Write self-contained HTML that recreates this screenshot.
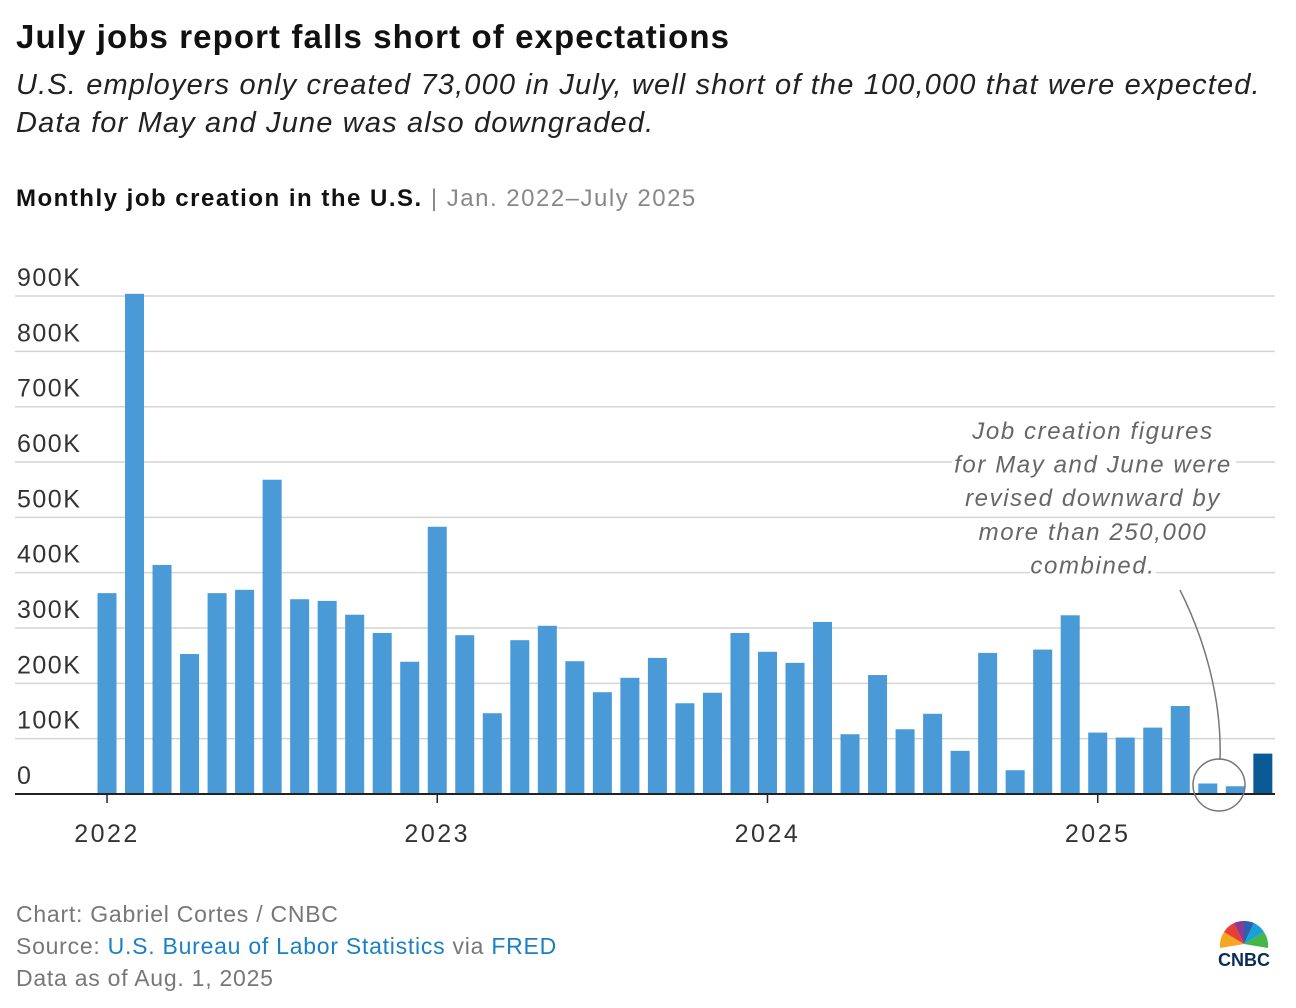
<!DOCTYPE html>
<html><head><meta charset="utf-8">
<style>
body{margin:0;width:1296px;height:1008px;background:#fff;font-family:"Liberation Sans",sans-serif;overflow:hidden;position:relative}
.t{position:absolute;left:16px;top:18px;font-size:33px;font-weight:bold;color:#111;letter-spacing:1.1px}
.s{position:absolute;left:16px;top:66px;font-size:29px;font-style:italic;color:#222;line-height:38px;letter-spacing:1.15px}
.h{position:absolute;left:16px;top:185px;font-size:24px;color:#111;letter-spacing:1.5px}
.f{position:absolute;left:16px;top:898px;font-size:23px;color:#777;line-height:32px;letter-spacing:0.75px}
.f a{color:#1a80c4;text-decoration:none}
</style></head><body>
<div class="t">July jobs report falls short of expectations</div>
<div class="s">U.S. employers only created 73,000 in July, well short of the 100,000 that were expected.<br>Data for May and June was also downgraded.</div>
<div class="h"><b>Monthly job creation in the U.S.</b> <span style="color:#888">| Jan. 2022–July 2025</span></div>
<svg id="c" width="1296" height="1008" style="position:absolute;left:0;top:0"></svg>
<div class="f">Chart: Gabriel Cortes / CNBC<br>Source: <a>U.S. Bureau of Labor Statistics</a> via <a>FRED</a><br>Data as of Aug. 1, 2025</div>
<svg width="64" height="56" style="position:absolute;left:1212px;top:914px">
<g transform="translate(32,30)">
<path d="M0,0 L-24,4 A24,24 0 0 1 -20,-12Z" fill="#f5a623"/>
<path d="M0,0 L-20,-12 A24,24 0 0 1 -10,-21Z" fill="#e83e33"/>
<path d="M0,0 L-10,-21 A24,24 0 0 1 0,-23Z" fill="#8e3a94"/>
<path d="M0,0 L0,-23 A24,24 0 0 1 10,-21Z" fill="#2a62b0"/>
<path d="M0,0 L10,-21 A24,24 0 0 1 20,-12Z" fill="#1aa0d8"/>
<path d="M0,0 L20,-12 A24,24 0 0 1 24,4Z" fill="#44b549"/>
</g>
<text x="32" y="52" text-anchor="middle" font-size="18" font-weight="bold" fill="#0a2c5a" font-family="Liberation Sans">CNBC</text>
</svg>
<script>
const months=["Jan22","Feb22","Mar22","Apr22","May22","Jun22","Jul22","Aug22","Sep22","Oct22","Nov22","Dec22","Jan23","Feb23","Mar23","Apr23","May23","Jun23","Jul23","Aug23","Sep23","Oct23","Nov23","Dec23","Jan24","Feb24","Mar24","Apr24","May24","Jun24","Jul24","Aug24","Sep24","Oct24","Nov24","Dec24","Jan25","Feb25","Mar25","Apr25","May25","Jun25","Jul25"];
const jobs=[363,904,414,253,363,369,568,352,349,324,291,239,483,287,146,278,304,240,184,210,246,164,183,291,257,237,311,108,215,117,145,78,255,43,261,323,111,102,120,159,19,14,73];
const yTicks=[0,100,200,300,400,500,600,700,800,900];
const yLabels=["0","100K","200K","300K","400K","500K","600K","700K","800K","900K"];
const years=["2022","2023","2024","2025"];
const NS="http://www.w3.org/2000/svg",svg=document.getElementById('c');
const y=v=>794-v*0.5533, x=i=>107+i*27.52;
function mk(t,a){const e=document.createElementNS(NS,t);for(const k in a)e.setAttribute(k,a[k]);svg.appendChild(e);return e;}
yTicks.forEach((v,i)=>{
 if(v>0){const g=mk('line',{x1:15,x2:1275,y1:y(v),y2:y(v),stroke:'#d4d4d4','stroke-width':1.5});
 
 }
 const t=mk('text',{x:17,y:y(v)-10,'font-size':25,fill:'#333','font-family':'Liberation Sans','letter-spacing':1.5});t.textContent=yLabels[i];
 
 
});
jobs.forEach((v,i)=>{
 const r=mk('rect',{x:x(i)-9.5,y:y(v),width:19,height:794-y(v),fill:i==jobs.length-1?'#0b5a95':'#4a9ad8'});
 
 
});
const ax=mk('line',{x1:15,x2:1275,y1:794,y2:794,stroke:'#222','stroke-width':2});


years.forEach((yr,i)=>{
 const xi=x(i*12);
 mk('line',{x1:xi,x2:xi,y1:794,y2:803,stroke:'#222','stroke-width':1.5});
 const t=mk('text',{x:xi,y:842,'text-anchor':'middle','font-size':25,fill:'#333','font-family':'Liberation Sans','letter-spacing':2.5});t.textContent=yr;
 
 
});
[[952,1236,440],[952,1236,474],[962,1226,507],[974,1214,541],[1030,1156,574]].forEach(b=>{
 const rb=mk('rect',{x:b[0],y:b[2]-22,width:b[1]-b[0],height:30,fill:'#fff'});
 
 
});
["Job creation figures","for May and June were","revised downward by","more than 250,000","combined."].forEach((s,i)=>{
 const t=mk('text',{x:1093,y:439+i*33.6,'text-anchor':'middle','font-size':24,'font-style':'italic',fill:'#666','font-family':'Liberation Sans','letter-spacing':1.6});t.textContent=s;
 
 
});
const p=mk('path',{d:'M1180,590 C1205,640 1222,700 1220,760',fill:'none',stroke:'#777','stroke-width':1.5});


const ci=mk('circle',{cx:1219,cy:785,r:26,fill:'none',stroke:'#777','stroke-width':1.5});


</script>
</body></html>
